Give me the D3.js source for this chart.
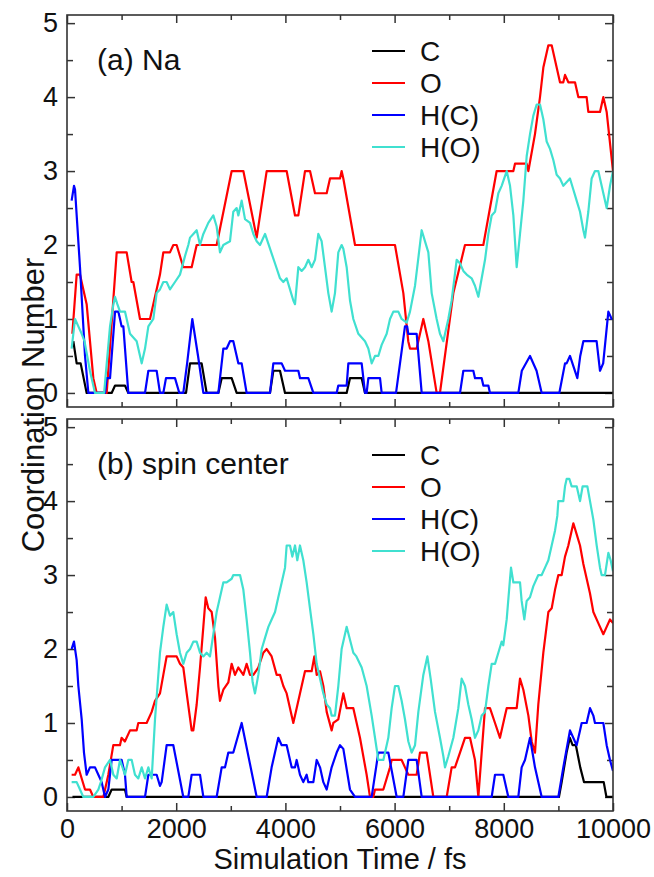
<!DOCTYPE html>
<html><head><meta charset="utf-8">
<script src="https://cdn.jsdelivr.net/npm/d3@7"></script>
<style>
html,body{margin:0;padding:0;background:#fff;}
text{font-family:"Liberation Sans",Arial,Helvetica,sans-serif;fill:#111;}
</style></head>
<body>
<svg id="chart" width="654" height="877"></svg>
<script>
// ---------- DATA ----------
const seriesNames = ["C", "O", "H(C)", "H(O)"];
const seriesColors = ["#000000", "#ff0000", "#0000ff", "#40e0d0"];
const xTicksMajor = [0, 2000, 4000, 6000, 8000, 10000];
const xTicksMinor = [1000, 3000, 5000, 7000, 9000];
const yTicksMajor = [0, 1, 2, 3, 4, 5];
const yTicksMinor = [0.5, 1.5, 2.5, 3.5, 4.5];
const panelLabels = ["(a) Na", "(b) spin center"];
const xTitle = "Simulation Time / fs";
const yTitle = "Coordination Number";

// panel (a) Na : [time fs, coordination number]
const naC = [[116,0.7],[177,0.4],[250,0.4],[360,0],[818,0],[880,0.1],[1062,0.1],[1123,0],[2180,0],[2253,0.4],[2466,0.4],[2558,0],[2772,0],[2833,0.2],[3016,0.2],[3107,0],[3718,0],[3779,0.3],[3901,0.3],[3993,0],[5122,0],[5183,0.2],[5397,0.2],[5458,0],[10000,0]];
const naO = [[98,0.8],[177,1.6],[238,1.6],[299,1.4],[360,1.2],[482,0.2],[543,0],[727,0],[910,1.9],[1093,1.9],[1184,1.5],[1215,1.5],[1337,1.0],[1520,1.0],[1703,1.6],[1764,1.9],[1886,1.9],[1947,2.0],[2008,2.0],[2130,1.7],[2283,1.7],[2375,2.0],[2741,2.0],[3016,3.0],[3230,3.0],[3474,2.1],[3657,3.0],[4023,3.0],[4176,2.4],[4237,2.4],[4359,3.0],[4451,3.0],[4542,2.7],[4756,2.7],[4817,2.9],[5000,2.9],[5030,3.0],[5061,2.9],[5275,2.0],[6007,2.0],[6160,1.35],[6250,0.7],[6282,0.6],[6404,0.6],[6526,1.0],[6618,0.7],[6770,0],[6831,0],[7076,1.35],[7289,2.0],[7625,2.0],[7869,3.0],[8175,3.0],[8205,3.1],[8419,3.1],[8450,3.0],[8571,3.5],[8663,4.0],[8724,4.4],[8816,4.7],[8877,4.7],[9029,4.2],[9090,4.2],[9121,4.3],[9182,4.2],[9304,4.2],[9365,4.0],[9517,4.0],[9548,3.8],[9762,3.8],[9823,4.0],[9884,3.8],[10000,3.0]];
const naHC = [[85,2.6],[128,2.8],[147,2.75],[238,1.7],[330,0.5],[391,0],[696,0],[727,0.2],[788,0.2],[880,1.1],[940,1.1],[971,1.0],[1000,0.9],[1032,0.9],[1123,0],[1429,0],[1490,0.3],[1642,0.3],[1703,0],[1764,0],[1813,0.2],[1978,0.2],[2057,0],[2130,0],[2200,0.4],[2295,1.0],[2400,0.5],[2497,0],[2772,0],[2863,0.6],[2924,0.6],[2985,0.7],[3046,0.7],[3138,0.4],[3199,0.4],[3290,0],[3718,0],[3779,0.4],[3932,0.4],[3993,0.3],[4237,0.3],[4268,0.2],[4420,0.2],[4512,0],[4939,0],[4969,0.1],[5122,0.1],[5153,0.4],[5397,0.4],[5458,0],[5488,0],[5519,0.2],[5733,0.2],[5763,0],[6026,0],[6190,0.9],[6230,0.9],[6250,0.8],[6404,0.8],[6496,0],[7198,0],[7259,0.3],[7442,0.3],[7473,0.2],[7595,0.2],[7625,0.1],[7717,0.1],[7747,0],[8266,0],[8330,0.3],[8480,0.5],[8600,0.3],[8694,0],[9017,0],[9121,0.4],[9150,0.4],[9212,0.5],[9347,0.2],[9400,0.5],[9457,0.7],[9700,0.7],[9762,0.3],[9820,0.4],[9915,1.1],[9976,1.0],[10000,1.0]];
const naHO = [[85,0.6],[147,1.0],[208,0.9],[269,0.8],[320,0.7],[420,0.3],[513,0],[680,0],[788,0.9],[850,1.2],[879,1.3],[922,1.2],[971,1.1],[1062,1.1],[1154,0.8],[1276,0.7],[1368,0.4],[1429,0.6],[1490,0.9],[1581,1.0],[1642,1.35],[1703,1.4],[1764,1.5],[1825,1.5],[1886,1.4],[1978,1.5],[2069,1.6],[2161,1.85],[2222,2.0],[2253,2.1],[2314,2.15],[2375,2.2],[2436,2.0],[2497,2.15],[2588,2.3],[2680,2.4],[2741,2.25],[2802,1.9],[2863,2.0],[2985,2.05],[3046,2.45],[3107,2.5],[3138,2.4],[3199,2.6],[3260,2.35],[3352,2.3],[3413,2.15],[3474,2.05],[3535,2.0],[3627,2.15],[3718,1.95],[3810,1.75],[3901,1.55],[3962,1.5],[4023,1.55],[4084,1.4],[4145,1.25],[4176,1.2],[4237,1.7],[4298,1.65],[4359,1.7],[4420,1.8],[4481,1.7],[4542,1.8],[4603,2.15],[4664,2.05],[4725,1.7],[4786,1.35],[4847,1.1],[4908,1.35],[4969,1.9],[5030,2.0],[5061,1.95],[5122,1.7],[5183,1.25],[5244,1.0],[5336,0.8],[5458,0.7],[5519,0.6],[5580,0.4],[5641,0.5],[5702,0.5],[5763,0.65],[5855,0.8],[5916,1.0],[5977,1.1],[6068,1.1],[6129,1.0],[6221,0.95],[6282,1.1],[6374,1.45],[6496,2.2],[6557,2.05],[6618,1.9],[6679,1.35],[6770,1.0],[6831,0.8],[6893,0.7],[6984,1.0],[7045,1.25],[7137,1.8],[7198,1.75],[7259,1.65],[7320,1.6],[7411,1.55],[7472,1.45],[7534,1.3],[7595,1.55],[7656,1.8],[7717,2.15],[7778,2.4],[7839,2.45],[7900,2.7],[7961,2.8],[8053,3.0],[8114,2.8],[8175,2.4],[8236,1.7],[8297,2.15],[8358,2.6],[8419,3.2],[8480,3.5],[8541,3.75],[8602,3.9],[8663,3.9],[8724,3.7],[8785,3.4],[8846,3.3],[8907,3.15],[8968,2.95],[9029,2.9],[9090,2.8],[9212,2.9],[9273,2.75],[9334,2.6],[9396,2.45],[9457,2.2],[9487,2.1],[9548,2.45],[9609,2.9],[9670,3.0],[9731,3.0],[9792,2.8],[9884,2.5],[9945,2.8],[10000,3.0]];

// panel (b) spin center
const scC = [[100,0],[757,0],[818,0.1],[1062,0.1],[1093,0],[9010,0],[9060,0.2],[9150,0.6],[9210,0.8],[9260,0.7],[9320,0.7],[9400,0.4],[9470,0.2],[9830,0.2],[9880,0],[10000,0]];
const scO = [[85,0.3],[147,0.3],[208,0.4],[269,0.25],[330,0.1],[421,0.1],[482,0],[666,0],[757,0.3],[848,0.7],[970,0.7],[1000,0.8],[1060,0.75],[1154,0.9],[1276,0.9],[1306,1.0],[1459,1.0],[1551,1.15],[1612,1.3],[1703,1.4],[1764,1.65],[1825,1.9],[2008,1.9],[2069,1.8],[2130,1.75],[2192,1.4],[2283,0.9],[2314,0.9],[2375,1.25],[2436,1.75],[2497,2.3],[2540,2.7],[2588,2.55],[2650,2.5],[2711,2.15],[2772,1.5],[2802,1.3],[2863,1.45],[2955,1.55],[3016,1.8],[3077,1.65],[3138,1.75],[3230,1.65],[3290,1.8],[3352,1.65],[3413,1.65],[3504,1.75],[3596,1.95],[3657,2.0],[3748,1.9],[3840,1.65],[3901,1.65],[3962,1.5],[4023,1.4],[4084,1.2],[4145,1.0],[4206,1.2],[4267,1.4],[4359,1.7],[4481,1.7],[4530,1.9],[4573,1.65],[4634,1.7],[4695,1.5],[4756,1.15],[4847,0.9],[4878,1.0],[4969,1.05],[5061,1.4],[5122,1.2],[5244,1.2],[5366,0.8],[5488,0.3],[5549,0],[5610,0],[5641,0.1],[5794,0.1],[5916,0.4],[5946,0.5],[6129,0.5],[6190,0.4],[6252,0.3],[6404,0.3],[6465,0.6],[6587,0.6],[6648,0.3],[6709,0],[6954,0],[7045,0.4],[7106,0.4],[7198,0.6],[7289,0.8],[7381,0.8],[7472,0.5],[7534,0],[7656,1.2],[7747,1.2],[7839,1.0],[7930,0.8],[8022,1.1],[8053,1.2],[8236,1.2],[8297,1.6],[8358,1.45],[8450,1.1],[8511,0.75],[8571,0.6],[8632,1.25],[8724,1.95],[8816,2.5],[8877,2.55],[8938,2.8],[8999,3.0],[9060,3.0],[9121,3.25],[9182,3.4],[9243,3.6],[9274,3.7],[9335,3.55],[9396,3.4],[9457,3.15],[9518,2.95],[9579,2.75],[9640,2.5],[9731,2.35],[9823,2.2],[9884,2.3],[9945,2.4],[10000,2.35]];
const scHC = [[85,2.0],[128,2.1],[177,1.85],[208,1.5],[269,1.05],[311,0.6],[360,0.3],[421,0.4],[513,0.4],[574,0.3],[635,0.2],[696,0],[757,0.1],[818,0.5],[1001,0.5],[1062,0.3],[1093,0],[1429,0],[1490,0.3],[1642,0.3],[1703,0.15],[1734,0.2],[1825,0.7],[1947,0.7],[2130,0],[2222,0],[2283,0.3],[2436,0.3],[2497,0],[2741,0],[2833,0.4],[2894,0.4],[2955,0.6],[3046,0.6],[3199,1.0],[3474,0],[3657,0],[3748,0.4],[3870,0.8],[3932,0.7],[4023,0.7],[4115,0.4],[4176,0.4],[4206,0.5],[4267,0.3],[4328,0.2],[4389,0.3],[4420,0.2],[4512,0.2],[4573,0.5],[4634,0.4],[4695,0.2],[4756,0.1],[4847,0.4],[4939,0.6],[5000,0.7],[5061,0.65],[5183,0.1],[5275,0],[5580,0],[5702,0.6],[5885,0.6],[6038,0],[6160,0],[6252,0.5],[6404,0.5],[6496,0],[7778,0],[7839,0.3],[7991,0.3],[8083,0],[8266,0],[8327,0.4],[8388,0.5],[8480,0.8],[8571,0.4],[8694,0],[8999,0],[9090,0.4],[9212,0.9],[9334,0.7],[9396,0.9],[9426,1.0],[9517,1.0],[9579,1.2],[9640,1.1],[9670,1.0],[9823,1.0],[9884,0.7],[9945,0.5],[10000,0.35]];
const scHO = [[85,0.2],[177,0.2],[238,0.1],[299,0],[482,0],[574,0.1],[620,0.2],[696,0.4],[788,0.5],[849,0.3],[910,0.25],[971,0.5],[1062,0.3],[1123,0.5],[1185,0.5],[1245,0.3],[1306,0.25],[1368,0.4],[1429,0.25],[1490,0.4],[1551,0.25],[1612,1.05],[1703,1.95],[1764,2.3],[1825,2.6],[1886,2.45],[1947,2.5],[2008,2.2],[2069,1.95],[2130,1.8],[2192,1.95],[2253,2.0],[2314,2.1],[2375,2.1],[2436,1.95],[2497,1.9],[2558,1.95],[2619,1.9],[2680,2.2],[2741,2.5],[2802,2.7],[2863,2.9],[2924,2.9],[3016,2.95],[3046,3.0],[3169,3.0],[3230,2.8],[3290,2.4],[3352,1.95],[3400,1.55],[3443,1.4],[3504,1.65],[3566,2.0],[3627,2.15],[3688,2.3],[3748,2.4],[3810,2.5],[3870,2.7],[3932,2.9],[3993,3.1],[4023,3.4],[4084,3.4],[4127,3.25],[4176,3.4],[4218,3.2],[4267,3.4],[4328,3.2],[4389,2.9],[4450,2.55],[4512,2.2],[4573,1.8],[4634,1.6],[4695,1.4],[4756,1.25],[4817,1.2],[4847,1.1],[4908,1.1],[4969,1.5],[5030,2.0],[5122,2.3],[5244,1.95],[5300,1.9],[5397,1.75],[5488,1.5],[5580,1.1],[5641,0.8],[5702,0.5],[5794,0.5],[5885,0.8],[5946,1.2],[6007,1.5],[6068,1.5],[6129,1.3],[6190,1.05],[6252,0.75],[6313,0.6],[6374,0.7],[6435,1.15],[6526,1.65],[6600,1.9],[6660,1.6],[6740,1.15],[6831,0.8],[6893,0.55],[6923,0.4],[6984,0.55],[7076,0.8],[7167,1.2],[7228,1.6],[7289,1.5],[7350,1.25],[7411,1.05],[7472,0.8],[7534,0.9],[7595,1.1],[7656,1.15],[7717,1.5],[7778,1.8],[7839,1.8],[7900,1.95],[7961,2.1],[7990,2.05],[8053,2.4],[8114,2.95],[8132,3.1],[8175,2.9],[8297,2.9],[8327,2.65],[8376,2.4],[8419,2.65],[8480,2.7],[8541,2.85],[8632,3.0],[8694,3.0],[8755,3.1],[8816,3.2],[8877,3.4],[8938,3.6],[8980,3.8],[8999,4.0],[9090,4.0],[9121,4.2],[9151,4.3],[9200,4.3],[9243,4.2],[9335,4.2],[9396,4.0],[9444,4.2],[9530,4.2],[9579,4.0],[9640,3.75],[9701,3.4],[9762,3.1],[9792,3.0],[9853,3.0],[9915,3.3],[9957,3.2],[10000,3.05]];

const panelSeries = [[naC, naO, naHC, naHO], [scC, scO, scHC, scHO]];

// ---------- LAYOUT ----------
const L = 67, R = 613;
const panelBoxes = [{top: 15, bottom: 407}, {top: 419, bottom: 811}];
const yDomain = [-0.19, 5.11];
const tickFont = 27;

const svg = d3.select("#chart");
const x = d3.scaleLinear().domain([0, 10000]).range([L, R]);

panelBoxes.forEach((box, pi) => {
  const y = d3.scaleLinear().domain(yDomain).range([box.bottom, box.top]);
  const g = svg.append("g");
  const h = box.bottom - box.top, w = R - L;

  const tickStyle = sel => { sel.select(".domain").remove(); sel.selectAll("line").attr("stroke", "#333").attr("stroke-width", 1.5); };

  g.append("g").attr("transform", `translate(${L},0)`)
    .call(d3.axisLeft(y).tickValues(yTicksMajor).tickSizeInner(-8).tickSizeOuter(0).tickPadding(9).tickFormat(d3.format("d")))
    .call(tickStyle)
    .call(s => s.selectAll("text").attr("font-size", tickFont).style("fill", "#111"));
  g.append("g").attr("transform", `translate(${L},0)`)
    .call(d3.axisLeft(y).tickValues(yTicksMinor).tickSizeInner(-6).tickSizeOuter(0).tickFormat(""))
    .call(tickStyle);
  g.append("g").attr("transform", `translate(${R},0)`)
    .call(d3.axisRight(y).tickValues(yTicksMajor).tickSizeInner(-8).tickSizeOuter(0).tickFormat(""))
    .call(tickStyle);
  g.append("g").attr("transform", `translate(${R},0)`)
    .call(d3.axisRight(y).tickValues(yTicksMinor).tickSizeInner(-6).tickSizeOuter(0).tickFormat(""))
    .call(tickStyle);

  const bottomAxis = d3.axisBottom(x).tickValues(xTicksMajor).tickSizeInner(-8).tickSizeOuter(0)
    .tickPadding(8).tickFormat(pi === 0 ? "" : d3.format("d"));
  g.append("g").attr("transform", `translate(0,${box.bottom})`)
    .call(bottomAxis).call(tickStyle)
    .call(s => s.selectAll("text").attr("font-size", tickFont).style("fill", "#111"));
  g.append("g").attr("transform", `translate(0,${box.bottom})`)
    .call(d3.axisBottom(x).tickValues(xTicksMinor).tickSizeInner(-5).tickSizeOuter(0).tickFormat(""))
    .call(tickStyle);
  g.append("g").attr("transform", `translate(0,${box.top})`)
    .call(d3.axisTop(x).tickValues(xTicksMajor).tickSizeInner(-8).tickSizeOuter(0).tickFormat(""))
    .call(tickStyle);
  g.append("g").attr("transform", `translate(0,${box.top})`)
    .call(d3.axisTop(x).tickValues(xTicksMinor).tickSizeInner(-5).tickSizeOuter(0).tickFormat(""))
    .call(tickStyle);

  const line = d3.line().x(d => x(d[0])).y(d => y(d[1]));
  const clipId = "clip" + pi;
  svg.append("clipPath").attr("id", clipId).append("rect")
    .attr("x", L).attr("y", box.top).attr("width", w).attr("height", h);
  const lg = g.append("g").attr("clip-path", `url(#${clipId})`);
  panelSeries[pi].forEach((data, si) => {
    lg.append("path").datum(data)
      .attr("d", line).attr("fill", "none")
      .attr("stroke", seriesColors[si]).attr("stroke-width", 2.2)
      .attr("stroke-linejoin", "round");
  });

  g.append("rect").attr("x", L).attr("y", box.top).attr("width", w).attr("height", h)
    .attr("fill", "none").attr("stroke", "#333").attr("stroke-width", 1.6);

  g.append("text").attr("x", 97).attr("y", box.top + 55)
    .attr("font-size", 30).text(panelLabels[pi]);

  const legTop = box.top + 36;
  seriesNames.forEach((name, si) => {
    const ly = legTop + si * 32;
    g.append("line").attr("x1", 372).attr("x2", 405).attr("y1", ly).attr("y2", ly)
      .attr("stroke", seriesColors[si]).attr("stroke-width", 2.2);
    g.append("text").attr("x", 420).attr("y", ly).attr("dy", "0.36em")
      .attr("font-size", 28).text(name);
  });
});

svg.append("text").attr("x", (L + R) / 2).attr("y", 869).attr("text-anchor", "middle")
  .attr("font-size", 29).text(xTitle);
svg.append("text").attr("transform", `translate(44,405) rotate(-90)`)
  .attr("text-anchor", "middle").attr("font-size", 31).text(yTitle);
</script>
</body></html>
